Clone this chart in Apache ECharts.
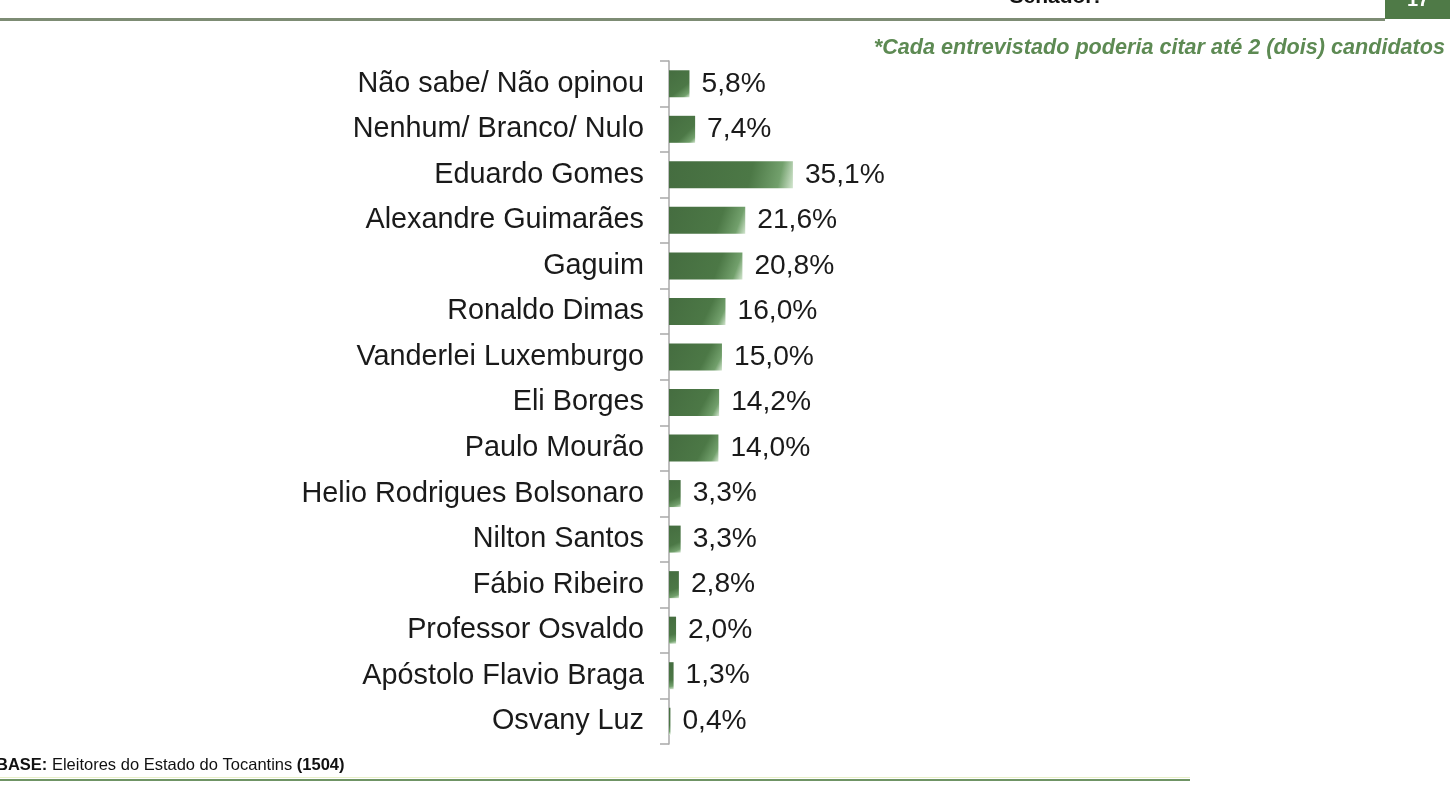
<!DOCTYPE html>
<html><head><meta charset="utf-8">
<script src="https://cdn.jsdelivr.net/npm/echarts@6/dist/echarts.min.js"></script>
<style>html,body{margin:0;padding:0;background:#fff}#c{width:1450px;height:795px}</style>
</head><body><div id="c"></div>
<script>
const categories = ["Não sabe/ Não opinou","Nenhum/ Branco/ Nulo","Eduardo Gomes","Alexandre Guimarães","Gaguim","Ronaldo Dimas","Vanderlei Luxemburgo","Eli Borges","Paulo Mourão","Helio Rodrigues Bolsonaro","Nilton Santos","Fábio Ribeiro","Professor Osvaldo","Apóstolo Flavio Braga","Osvany Luz"];
const values = [5.8,7.4,35.1,21.6,20.8,16.0,15.0,14.2,14.0,3.3,3.3,2.8,2.0,1.3,0.4];
const subtitleText = "*Cada entrevistado poderia citar até 2 (dois) candidatos";
const headerText = "Senador:";
const pageNumber = "17";

const chart = echarts.init(document.getElementById('c'));
const barGrad = new echarts.graphic.LinearGradient(0,0,1,1,[
  {offset:0,color:'#456d40'},
  {offset:0.65,color:'#4c7846'},
  {offset:0.88,color:'#72a06c'},
  {offset:1,color:'#d3e6cf'}
]);
chart.setOption({
  animation:false,
  grid:{left:669,top:61,bottom:51,width:353,containLabel:false},
  xAxis:{type:'value',min:0,max:100,show:false},
  yAxis:{type:'category',data:categories,inverse:true,
    axisLine:{show:true,lineStyle:{color:'#a9a9a9',width:1.5}},
    axisTick:{show:true,inside:false,length:9,lineStyle:{color:'#a9a9a9',width:1.5}},
    axisLabel:{color:'#1a1a1a',fontFamily:'Liberation Sans, Arial',fontSize:28.8,margin:25,padding:[3,0,0,0]}
  },
  series:[{type:'bar',data:values,barWidth:27,
    itemStyle:{color:barGrad},
    label:{show:true,position:'right',distance:12,color:'#1a1a1a',fontFamily:'Liberation Sans, Arial',fontSize:28.2,padding:[3,0,0,0],
      formatter:p=>p.value.toFixed(1).replace('.',',')+'%'}
  }],
  graphic:[
    {type:'rect',shape:{x:0,y:18,width:1385,height:3},style:{fill:'#7d8c74'}},
    {type:'rect',shape:{x:1385,y:0,width:65,height:19},style:{fill:'#4f7a47'}},
    {type:'text',x:1418,y:-10,style:{text:pageNumber,fill:'#fff',font:'bold 20px Liberation Sans',textAlign:'center'}},
    {type:'text',x:1055,y:-13,style:{text:headerText,fill:'#111',font:'bold 21px Liberation Sans',textAlign:'center'}},
    {type:'text',x:1445,y:37,style:{text:subtitleText,fill:'#5d8a53',font:'italic bold 21.6px Liberation Sans',textAlign:'right'}},
    {type:'text',x:-4,y:757,style:{rich:{b:{font:'bold 16.5px Liberation Sans',fill:'#111'},n:{font:'16.5px Liberation Sans',fill:'#111'}},text:'{b|BASE:}{n| Eleitores do Estado do Tocantins }{b|(1504)}'}},
    {type:'rect',shape:{x:0,y:777,width:1190,height:1},style:{fill:'#e8efc8'}},
    {type:'rect',shape:{x:0,y:779,width:1190,height:2},style:{fill:'#6f9465'}}
  ]
});
</script></body></html>
